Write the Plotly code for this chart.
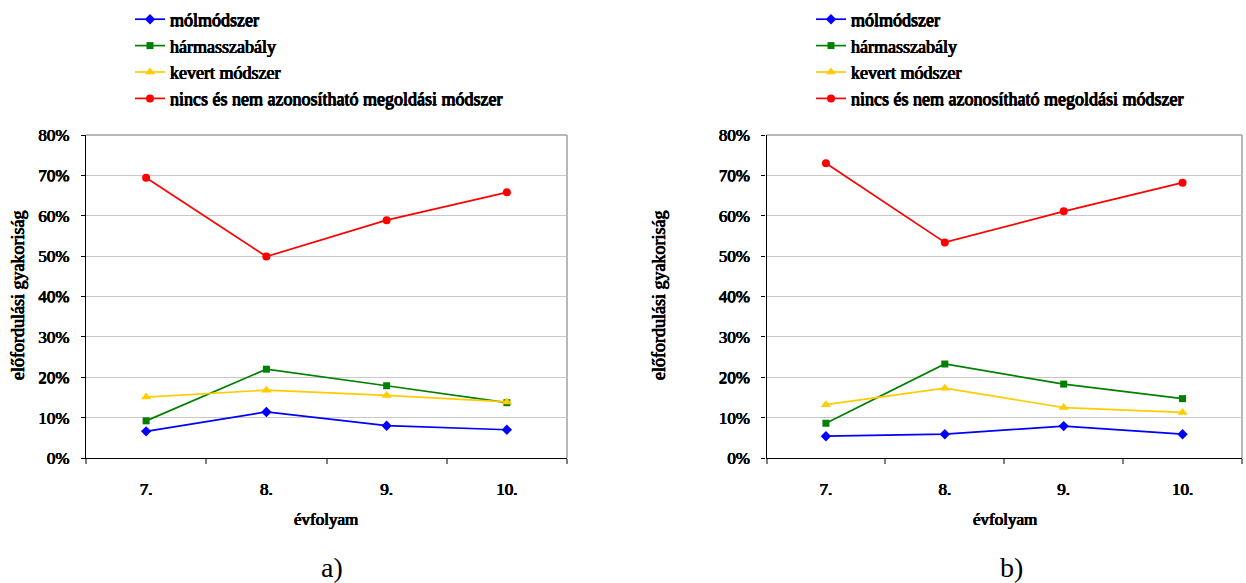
import plotly.graph_objects as go

categories = ["7.", "8.", "9.", "10."]
series_names = ["mólmódszer", "hármasszabály", "kevert módszer",
                "nincs és nem azonosítható megoldási módszer"]

# chart a)
a_mol = [6.6, 11.4, 8.0, 7.0]
a_harmas = [9.2, 22.0, 17.9, 13.7]
a_kevert = [15.1, 16.8, 15.5, 13.9]
a_nincs = [69.4, 49.9, 58.9, 65.8]

# chart b)
b_mol = [5.4, 5.9, 7.9, 5.9]
b_harmas = [8.6, 23.3, 18.3, 14.7]
b_kevert = [13.2, 17.3, 12.5, 11.3]
b_nincs = [73.0, 53.4, 61.1, 68.2]

y_ticks = [0, 10, 20, 30, 40, 50, 60, 70, 80]
y_ticktext = ["0%", "10%", "20%", "30%", "40%", "50%", "60%", "70%", "80%"]

colors = ["#0000FF", "#008000", "#FFCC00", "#FF0000"]
symbols = ["diamond", "square", "triangle-up", "circle"]
msizes = [8, 7, 9, 8]

W, H = 1246, 583
SERIF = "Liberation Serif"
SH = "0.45px 0 0 black, -0.45px 0 0 black, 0 0.3px 0 black"

fig = go.Figure()
xpos = list(range(1, len(categories) + 1))

panels = [
    ([a_mol, a_harmas, a_kevert, a_nincs], "x", "y", "legend"),
    ([b_mol, b_harmas, b_kevert, b_nincs], "x2", "y2", "legend2"),
]
for data, xa, ya, lg in panels:
    for i, vals in enumerate(data):
        fig.add_trace(go.Scatter(
            x=xpos, y=vals, mode="lines+markers", name=series_names[i],
            line=dict(color=colors[i], width=1.7),
            marker=dict(symbol=symbols[i], size=msizes[i], color=colors[i]),
            xaxis=xa, yaxis=ya, legend=lg,
        ))

ydom = [1 - 458 / H, 1 - 135 / H]
xdomA = [86 / W, 567 / W]
xdomB = [766.5 / W, 1242 / W]

xcommon = dict(
    range=[0.5, 4.5], tickvals=xpos, ticktext=categories, ticks="",
    showline=True, linecolor="black", linewidth=1.2, showgrid=False,
    zeroline=False, tickfont=dict(family=SERIF, size=17, color="black", shadow=SH),
    ticklabelstandoff=15,
    minor=dict(tickvals=[0.5, 1.5, 2.5, 3.5, 4.5], ticks="outside", ticklen=5,
               tickcolor="#808080", tickwidth=1.5, showgrid=False),
)
ycommon = dict(
    range=[0, 80], tickvals=y_ticks, ticktext=y_ticktext, ticks="outside",
    ticklen=4, tickcolor="black", showline=True, linecolor="black", linewidth=1.2,
    showgrid=True, gridcolor="#C8C8C8", gridwidth=1.3, zeroline=False,
    tickfont=dict(family=SERIF, size=17, color="black", shadow=SH),
    ticklabelstandoff=8,
)

legfont = dict(family=SERIF, size=18, color="black", shadow=SH)
fig.update_layout(
    width=W, height=H, margin=dict(l=0, r=0, t=0, b=0, autoexpand=False),
    paper_bgcolor="white", plot_bgcolor="white",
    xaxis=dict(domain=xdomA, anchor="y", **xcommon),
    yaxis=dict(domain=ydom, anchor="x", **ycommon),
    xaxis2=dict(domain=xdomB, anchor="y2", **xcommon),
    yaxis2=dict(domain=ydom, anchor="x2", **ycommon),
    legend=dict(x=130 / W, y=1 - 1 / H, xanchor="left", yanchor="top",
                font=legfont, itemwidth=30, bgcolor="rgba(0,0,0,0)"),
    legend2=dict(x=811 / W, y=1 - 1 / H, xanchor="left", yanchor="top",
                 font=legfont, itemwidth=30, bgcolor="rgba(0,0,0,0)"),
    showlegend=True,
)

for xr, yr in [("x domain", "y domain"), ("x2 domain", "y2 domain")]:
    fig.add_shape(type="line", xref=xr, yref=yr, x0=0, x1=1, y0=1, y1=1,
                  line=dict(color="#A0A0A0", width=1.5), layer="below")
    fig.add_shape(type="line", xref=xr, yref=yr, x0=1, x1=1, y0=0, y1=1,
                  line=dict(color="#A0A0A0", width=1.5), layer="below")

ann = []
for xc, xl, ytx, lab in [(326, 332, 18, "a)"), (1005, 1012, 659, "b)")]:
    ann.append(dict(x=ytx / W, y=1 - 296 / H, xref="paper", yref="paper",
                    xanchor="center", yanchor="middle",
                    text="előfordulási gyakoriság", textangle=-90, showarrow=False,
                    font=dict(family=SERIF, size=18, color="black", shadow=SH)))
    ann.append(dict(x=xc / W, y=1 - 519 / H, xref="paper", yref="paper",
                    xanchor="center", yanchor="middle",
                    text="évfolyam", showarrow=False,
                    font=dict(family=SERIF, size=17, color="black", shadow=SH)))
    ann.append(dict(x=xl / W, y=1 - 567 / H, xref="paper", yref="paper",
                    xanchor="center", yanchor="middle",
                    text=lab, showarrow=False,
                    font=dict(family=SERIF, size=28, color="black")))
fig.update_layout(annotations=ann)

fig.write_html("out.html")
